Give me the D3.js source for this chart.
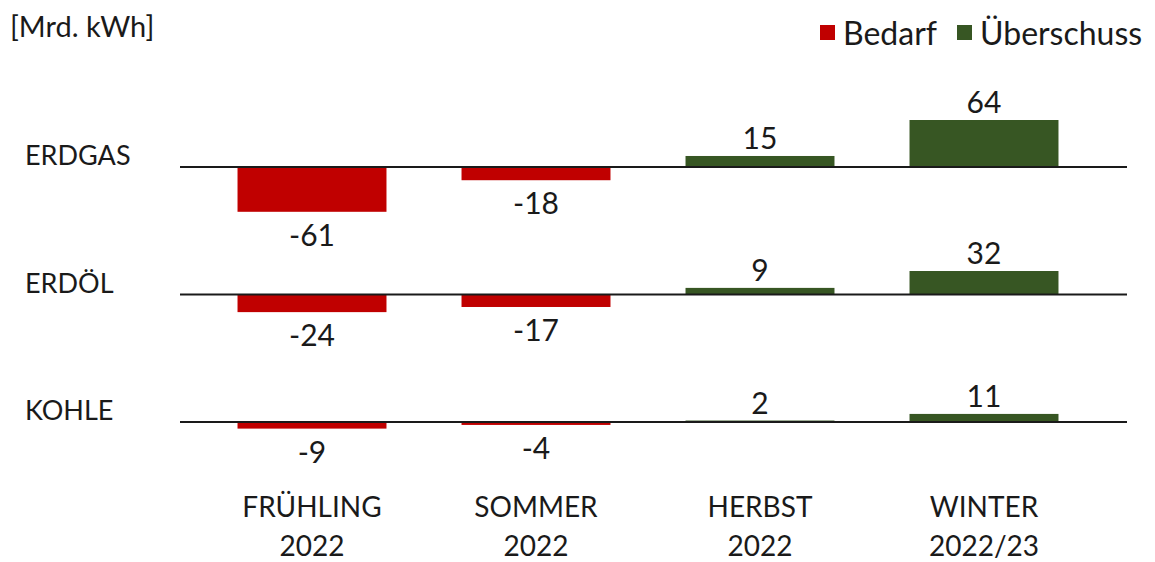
<!DOCTYPE html>
<html lang="de">
<head>
<meta charset="UTF-8">
<title>Bedarf und Überschuss</title>
<script src="https://d3js.org/d3.v7.min.js"></script>
<style>
    body { margin: 0; background: #fff; }
    svg text { font-family: Lato, "Open Sans", sans-serif; fill: #1a1a1a; }
</style>
</head>
<body>
<div id="chart"></div>
<script>
// Daten
const seasons = ["FRÜHLING 2022", "SOMMER 2022", "HERBST 2022", "WINTER 2022/23"];
const energy = ["ERDGAS", "ERDÖL", "KOHLE"];
const erdgas = [-61, -18, 15, 64];
const erdoel = [-24, -17, 9, 32];
const kohle = [-9, -4, 2, 11];
const legendLabels = ["Bedarf", "Überschuss"];
const unitLabel = "[Mrd. kWh]";

const rows = [erdgas, erdoel, kohle];
const colors = { neg: "#c00000", pos: "#375623" };

const width = 1155, height = 562;

const svg = d3.select("#chart").append("svg")
    .attr("width", width)
    .attr("height", height);

const x = d3.scaleBand()
    .domain(seasons)
    .range([200, 1096])
    .paddingInner(0.335)
    .paddingOuter(0.1675);

const rowY = d3.scalePoint()
    .domain(energy)
    .range([167, 422]);

// Wert -> Pixel (Höhe)
const h = d3.scaleLinear().domain([0, 64]).range([0, 47]);

// Einheit
svg.append("text")
    .attr("x", 10).attr("y", 37)
    .style("font-size", "29px")
    .text(unitLabel);

// Legende
const legend = svg.append("g");
const legendX = [820, 957];
legendLabels.forEach((lab, i) => {
    legend.append("rect")
        .attr("x", legendX[i]).attr("y", 25)
        .attr("width", 15).attr("height", 15)
        .attr("fill", i === 0 ? colors.neg : colors.pos);
    legend.append("text")
        .attr("x", legendX[i] + 23).attr("y", 45)
        .style("font-size", "32px")
        .text(lab);
});

energy.forEach((name, r) => {
    const base = rowY(name);
    const g = svg.append("g");

    g.append("text")
        .attr("x", 25).attr("y", base - 2)
        .style("font-size", "27px")
        .text(name);

    const data = seasons.map((s, i) => ({ s, v: rows[r][i] }));

    g.selectAll("rect")
        .data(data)
        .join("rect")
        .attr("x", d => x(d.s))
        .attr("width", x.bandwidth())
        .attr("y", d => d.v < 0 ? base : base - h(d.v))
        .attr("height", d => h(Math.abs(d.v)))
        .attr("fill", d => d.v < 0 ? colors.neg : colors.pos);

    g.append("line")
        .attr("x1", 180).attr("x2", 1127)
        .attr("y1", base).attr("y2", base)
        .attr("stroke", "#1a1a1a")
        .attr("stroke-width", 1.8);

    g.selectAll("text.val")
        .data(data)
        .join("text")
        .attr("class", "val")
        .attr("x", d => x(d.s) + x.bandwidth() / 2)
        .attr("y", d => d.v < 0 ? base + h(-d.v) + 34 : base - h(d.v) - 7)
        .attr("text-anchor", "middle")
        .style("font-size", "30px")
        .text(d => d.v);
});

// Kategorien
seasons.forEach(s => {
    const parts = s.split(" ");
    const t = svg.append("text")
        .attr("x", x(s) + x.bandwidth() / 2)
        .attr("text-anchor", "middle")
        .style("font-size", "28px");
    parts.forEach((p, j) => {
        t.append("tspan")
            .attr("x", x(s) + x.bandwidth() / 2)
            .attr("y", 517 + j * 39)
            .text(p);
    });
});
</script>
</body>
</html>
